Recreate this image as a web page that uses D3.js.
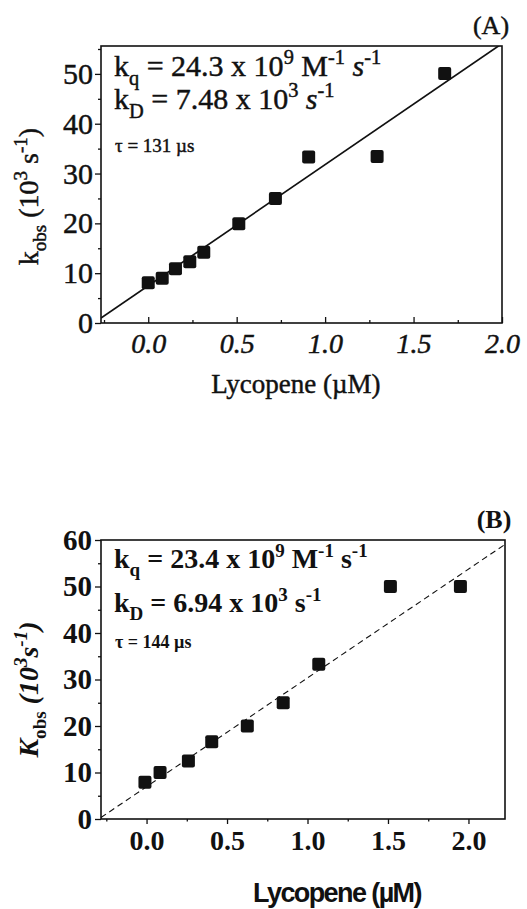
<!DOCTYPE html>
<html>
<head>
<meta charset="utf-8">
<script src="https://cdn.jsdelivr.net/npm/d3@7"></script>
<style>
  body { margin: 0; background: #fff; }
  text { fill: #111; }
</style>
</head>
<body>
<svg id="chart" width="527" height="909"></svg>
<script>
// ---- panel A : lycopene (uM) vs k_obs (10^3 s^-1)
const lycopeneA = [0.0, 0.079, 0.154, 0.235, 0.314, 0.512, 0.719, 0.907, 1.294, 1.676];
const kobsA     = [8.1, 9.0, 10.9, 12.3, 14.2, 19.9, 25.0, 33.3, 33.4, 50.1];
const fitA = { kq: 24.3, kD: 7.48 };

// ---- panel B
const lycopeneB = [-0.01, 0.084, 0.26, 0.405, 0.626, 0.849, 1.07, 1.515, 1.95];
const kobsB     = [7.9, 10.0, 12.5, 16.6, 20.0, 25.0, 33.3, 50.0, 50.0];
const fitB = { kq: 23.4, kD: 6.94 };

// tick labels
const xTicks  = [0.0, 0.5, 1.0, 1.5, 2.0];
const xMinor  = [-0.25, 0.25, 0.75, 1.25, 1.75];
const yTicksA = [0, 10, 20, 30, 40, 50];
const yMinorA = [5, 15, 25, 35, 45, 55];
const yTicksB = [0, 10, 20, 30, 40, 50, 60];
const yMinorB = [5, 15, 25, 35, 45, 55];

const svg = d3.select("#chart");
const serif = "'Liberation Serif', 'Times New Roman', serif";

// write text with sub/superscripts, parts = [{t, s:'sub'|'sup', i:italic}]
function rich(sel, parts, size) {
    let shift = 0;
    parts.forEach(p => {
        const target = p.s === "sup" ? -0.4 * size : p.s === "sub" ? 0.3 * size : 0;
        sel.append("tspan")
            .attr("dy", target - shift)
            .attr("font-size", p.s ? size * 0.68 : size)
            .attr("font-style", p.i ? "italic" : null)
            .text(p.t);
        shift = target;
    });
}

function drawPanel(cfg) {
    const g = svg.append("g");
    const x = d3.scaleLinear().domain(cfg.xDomain).range([cfg.left, cfg.right]);
    const y = d3.scaleLinear().domain(cfg.yDomain).range([cfg.bottom, cfg.top]);
    const weight = cfg.bold ? "bold" : null;
    // scanned look: thicken the regular glyphs a little
    const ink = sel => sel.attr("stroke", cfg.bold ? null : "#111").attr("stroke-width", cfg.bold ? null : 0.45);

    const clipId = "clip" + cfg.name;
    svg.append("clipPath").attr("id", clipId)
        .append("rect")
        .attr("x", cfg.left).attr("y", cfg.top)
        .attr("width", cfg.right - cfg.left).attr("height", cfg.bottom - cfg.top);

    // y axis
    const ya = g.append("g").attr("transform", `translate(${cfg.left},0)`)
        .call(d3.axisLeft(y).tickValues(cfg.yTicks).tickSize(6).tickPadding(cfg.yPad).tickFormat(d3.format("d")));
    ya.select(".domain").remove();
    ya.selectAll("text").attr("font-family", serif).attr("font-size", cfg.yTickSize)
        .attr("font-weight", weight).attr("fill", "#111").call(ink);
    const ym = g.append("g").attr("transform", `translate(${cfg.left},0)`)
        .call(d3.axisLeft(y).tickValues(cfg.yMinor).tickSize(3).tickFormat(""));
    ym.select(".domain").remove();

    // x axis
    const xa = g.append("g").attr("transform", `translate(0,${cfg.bottom})`)
        .call(d3.axisBottom(x).tickValues(xTicks).tickSize(cfg.xTickLen).tickPadding(cfg.xPad).tickFormat(d3.format(".1f")));
    xa.select(".domain").remove();
    xa.selectAll("text").attr("font-family", serif).attr("font-size", cfg.xTickSize)
        .attr("font-style", cfg.italicX ? "italic" : null)
        .attr("font-weight", weight).attr("fill", "#111").call(ink);
    const xm = g.append("g").attr("transform", `translate(0,${cfg.bottom})`)
        .call(d3.axisBottom(x).tickValues(xMinor).tickSize(cfg.xTickLen / 2).tickFormat(""));
    xm.select(".domain").remove();
    g.selectAll(".tick line").attr("stroke", "#111").attr("stroke-width", 1.3);

    // frame
    g.append("rect")
        .attr("x", cfg.left).attr("y", cfg.top)
        .attr("width", cfg.right - cfg.left).attr("height", cfg.bottom - cfg.top)
        .attr("fill", "none").attr("stroke", "#111").attr("stroke-width", 1.6);

    // fit line
    g.append("path")
        .datum(cfg.xDomain)
        .attr("clip-path", `url(#${clipId})`)
        .attr("d", d3.line().x(d => x(d)).y(d => y(cfg.fit.kD + cfg.fit.kq * d)))
        .attr("fill", "none").attr("stroke", "#111")
        .attr("stroke-width", cfg.dashed ? 1.1 : 1.7)
        .attr("stroke-dasharray", cfg.dashed ? "6,4" : null);

    // points
    const sz = 13;
    g.selectAll("rect.pt")
        .data(cfg.xs.map((v, i) => [v, cfg.ys[i]]))
        .enter().append("rect")
        .attr("class", "pt")
        .attr("x", d => x(d[0]) - sz / 2)
        .attr("y", d => y(d[1]) - sz / 2)
        .attr("width", sz).attr("height", sz)
        .attr("rx", 2)
        .attr("fill", "#111");

    // annotations
    const ann = cfg.ann;
    rich(g.append("text").attr("x", cfg.left + 13).attr("y", ann.y1)
        .attr("font-family", serif).attr("font-weight", weight).call(ink), ann.l1, ann.size);
    rich(g.append("text").attr("x", cfg.left + 13).attr("y", ann.y2)
        .attr("font-family", serif).attr("font-weight", weight).call(ink), ann.l2, ann.size);
    g.append("text").attr("x", cfg.left + 14).attr("y", ann.y3)
        .attr("font-family", serif).attr("font-size", ann.tauSize)
        .attr("font-weight", weight).call(ink)
        .text(ann.tau);

    // panel label
    g.append("text").attr("x", cfg.right - 11).attr("y", cfg.top - 12)
        .attr("text-anchor", "middle").attr("font-family", serif).attr("font-size", 26)
        .attr("font-weight", weight).call(ink)
        .text(cfg.label);

    // y title
    const yt = g.append("text")
        .attr("transform", `translate(${cfg.yTitleX},${(cfg.top + cfg.bottom) / 2 + cfg.yTitleDy}) rotate(-90)`)
        .attr("text-anchor", "middle").attr("font-family", serif)
        .attr("font-weight", weight).call(ink);
    rich(yt, cfg.yTitle, 28);

    // x title
    g.append("text")
        .attr("x", cfg.xTitleX).attr("y", cfg.xTitleY)
        .attr("text-anchor", "middle")
        .attr("font-family", cfg.sansTitle ? "'Liberation Sans', Arial, sans-serif" : serif)
        .attr("font-weight", cfg.sansTitle ? "bold" : null)
        .attr("font-size", 27)
        .attr("letter-spacing", cfg.sansTitle ? -1.6 : 0)
        .call(ink)
        .text("Lycopene (\u00B5M)");
}

drawPanel({
    name: "A", label: "(A)",
    left: 101, right: 502, top: 46, bottom: 323,
    xDomain: [-0.267, 2.0], yDomain: [0, 55.6],
    yTicks: yTicksA, yMinor: yMinorA,
    xs: lycopeneA, ys: kobsA, fit: fitA,
    dashed: false, bold: false, italicX: true,
    yTickSize: 30, xTickSize: 28, yPad: 2, xTickLen: -6, xPad: 10,
    ann: {
        size: 30, tauSize: 19, y1: 76, y2: 109, y3: 152,
        l1: [{t: "k"}, {t: "q", s: "sub"}, {t: " =  24.3 x 10"}, {t: "9", s: "sup"}, {t: " M"}, {t: "-1", s: "sup"}, {t: " s", i: true}, {t: "-1", s: "sup"}],
        l2: [{t: "k"}, {t: "D", s: "sub"}, {t: " = 7.48 x 10"}, {t: "3", s: "sup"}, {t: " s", i: true}, {t: "-1", s: "sup"}],
        tau: "\u03C4 = 131 \u00B5s"
    },
    yTitle: [{t: "k"}, {t: "obs", s: "sub"}, {t: " (10"}, {t: "3", s: "sup"}, {t: " s"}, {t: "-1", s: "sup"}, {t: ")"}],
    yTitleX: 38, yTitleDy: 12,
    xTitleX: 296, xTitleY: 393, sansTitle: false
});

drawPanel({
    name: "B", label: "(B)",
    left: 101, right: 505, top: 540, bottom: 819,
    xDomain: [-0.283, 2.227], yDomain: [0, 60],
    yTicks: yTicksB, yMinor: yMinorB,
    xs: lycopeneB, ys: kobsB, fit: fitB,
    dashed: true, bold: true, italicX: false,
    yTickSize: 29, xTickSize: 28, yPad: 3, xTickLen: 5, xPad: 6,
    ann: {
        size: 28, tauSize: 18, y1: 568, y2: 612, y3: 648,
        l1: [{t: "k"}, {t: "q", s: "sub"}, {t: " = 23.4 x 10"}, {t: "9", s: "sup"}, {t: " M"}, {t: "-1", s: "sup"}, {t: " s"}, {t: "-1", s: "sup"}],
        l2: [{t: "k"}, {t: "D", s: "sub"}, {t: " = 6.94 x 10"}, {t: "3", s: "sup"}, {t: " s"}, {t: "-1", s: "sup"}],
        tau: "\u03C4 = 144 \u00B5s"
    },
    yTitle: [{t: "K", i: true}, {t: "obs", s: "sub"}, {t: " (10", i: true}, {t: "3", s: "sup", i: true}, {t: "s", i: true}, {t: "-1", s: "sup", i: true}, {t: ")", i: true}],
    yTitleX: 38, yTitleDy: 10,
    xTitleX: 337, xTitleY: 902, sansTitle: true
});
</script>
</body>
</html>
